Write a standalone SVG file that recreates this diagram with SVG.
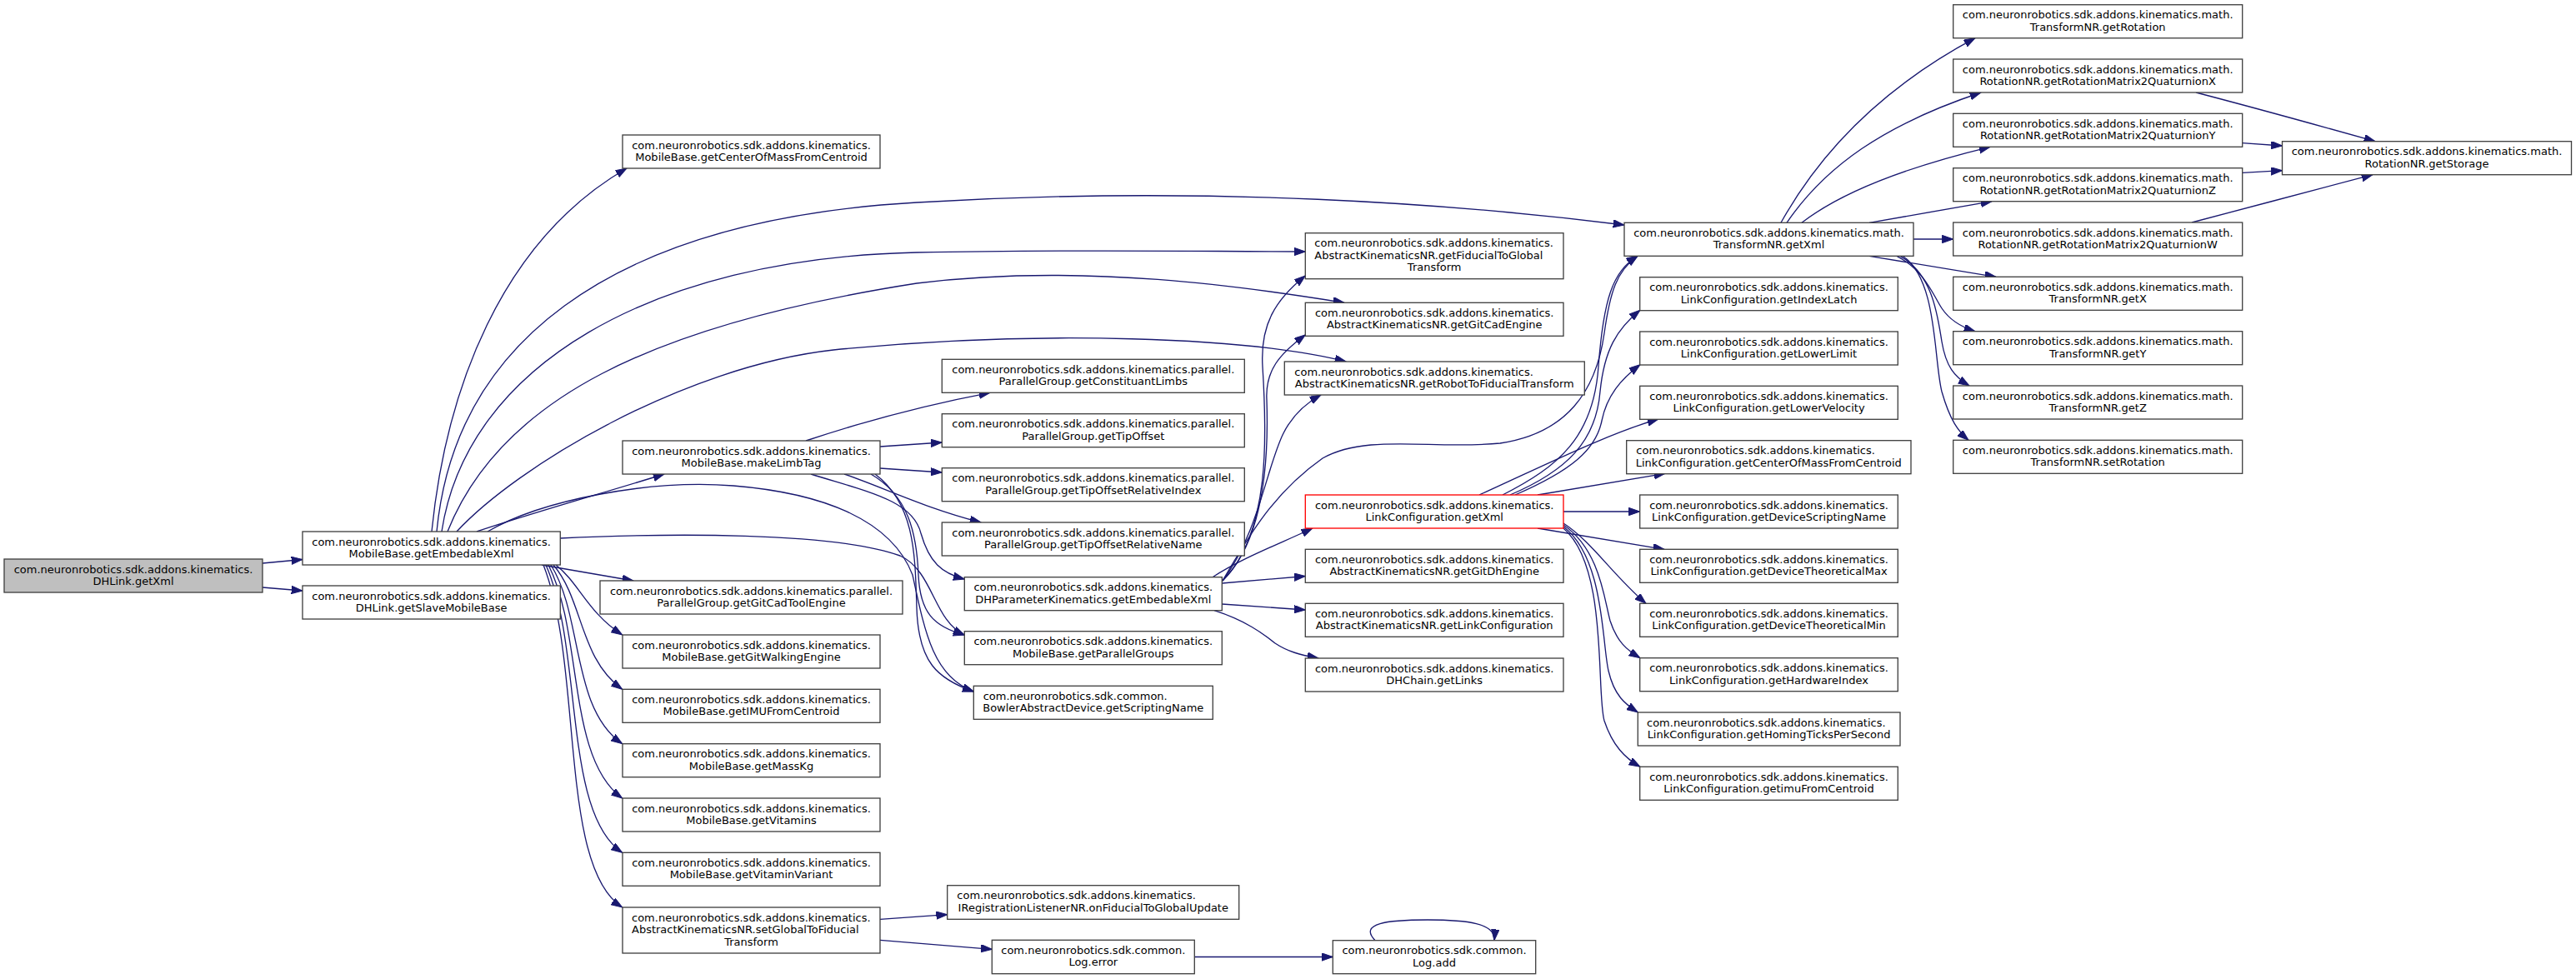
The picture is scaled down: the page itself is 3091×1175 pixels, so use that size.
<svg xmlns="http://www.w3.org/2000/svg" width="3091" height="1175" viewBox="0 0 3091 1175">
<defs>
<style>
.bg{fill:#fff}
.node rect{fill:#fff;stroke:#404040;stroke-width:1.33}
.node.root rect{fill:#bfbfbf}
.node.trunc rect{stroke:#ff0000}
text{font-family:"DejaVu Sans","Liberation Sans",sans-serif;font-size:13px;fill:#000}
.c{text-anchor:middle}
.l{text-anchor:start}
.edges path{fill:none;stroke:#191970;stroke-width:1.33;marker-end:url(#arr)}
</style>
<marker id="arr" markerUnits="userSpaceOnUse" markerWidth="14" markerHeight="10" refX="13.3" refY="4.65" orient="auto">
<path d="M0,0 L13.3,4.65 L0,9.3 z" fill="#191970" stroke="#191970" stroke-width="1"/>
</marker>
</defs>
<rect class="bg" x="0" y="0" width="3091" height="1175"/>
<g id="edges" class="edges">
<path d="M315,676 L363,671.5"/>
<path d="M315,705 L363,709"/>
<path d="M518,638 C535,470 600,290 752,202"/>
<path d="M524,638 C545,420 720,265 1100,243 C1450,222 1750,245 1949,270"/>
<path d="M530,638 C560,440 780,310 1100,303 C1300,299 1450,302 1566.3,302"/>
<path d="M537,638 C600,480 780,390 1100,340 C1300,315 1500,345 1613,363.3"/>
<path d="M548,638 C620,560 820,440 1000,420 C1250,395 1500,405 1615,434"/>
<path d="M572,638 C640,615 730,590 797,569"/>
<path d="M650,678 L760,697"/>
<path d="M667,678 C695,700 705,735 746.7,762"/>
<path d="M664,678 C700,720 695,790 746.7,827.3"/>
<path d="M661,678 C700,740 685,850 746.7,892.7"/>
<path d="M658,678 C700,760 680,910 746.7,958"/>
<path d="M655,678 C700,780 675,975 746.7,1023.3"/>
<path d="M652,678 C700,800 670,1040 746.7,1089"/>
<path d="M672,646 C800,640 1000,638 1080,667 C1120,685 1120,745 1157.3,762"/>
<path d="M585,638 C650,600 780,575 880,583 C990,592 1070,625 1095,690 C1110,760 1120,812 1168.3,830"/>
<path d="M967,529 C1030,508 1100,488 1188,471.3"/>
<path d="M1056,536 L1130.3,531"/>
<path d="M1056,562 L1130.3,567"/>
<path d="M1013,569 C1060,585 1110,610 1177,627"/>
<path d="M973,569 C1040,590 1095,600 1105,640 C1115,675 1130,688 1157.3,695"/>
<path d="M1045,569 C1090,595 1100,640 1102,690 C1104,735 1120,752 1157.3,762"/>
<path d="M1050,569 C1098,605 1098,665 1100,730 C1102,795 1125,815 1168.3,830"/>
<path d="M1467,697 C1525,640 1520,520 1515,440 C1512,390 1530,360 1566.3,331"/>
<path d="M1467,697 C1520,645 1522,540 1520,480 C1518,445 1535,425 1566.3,402"/>
<path d="M1467,697 C1510,640 1520,560 1540,520 C1550,500 1565,485 1585,474"/>
<path d="M1467,697 C1500,640 1530,590 1587,550 C1640,520 1720,540 1800,532 C1880,520 1915,470 1925,400 C1932,350 1940,325 1965,307.3"/>
<path d="M1455,692.7 C1490,670 1530,655 1575,634"/>
<path d="M1466.3,700 L1566.3,691.5"/>
<path d="M1466.3,725 L1566.3,732"/>
<path d="M1457,732.7 C1495,745 1515,760 1530,772 C1545,782 1560,786 1582,790"/>
<path d="M1803,594 C1870,560 1912,525 1918,440 C1924,360 1935,325 1965,307.3"/>
<path d="M1812,594 C1880,565 1915,530 1920,470 C1925,420 1940,395 1968,372.3"/>
<path d="M1818,594 C1885,565 1915,540 1922,505 C1928,475 1945,455 1968,437.7"/>
<path d="M1775,594 C1850,560 1930,520 1990,503"/>
<path d="M1845,594 L1998,568.3"/>
<path d="M1876,614 L1967.7,614"/>
<path d="M1845,634 L1997,659.3"/>
<path d="M1876,628 C1910,650 1935,690 1975,724.3"/>
<path d="M1876,630 C1920,660 1925,720 1932,745 C1940,770 1952,780 1968,789.7"/>
<path d="M1876,632 C1925,670 1922,770 1930,805 C1937,835 1950,845 1965.3,855"/>
<path d="M1876,634 C1930,680 1915,830 1925,865 C1935,895 1950,910 1968,920.3"/>
<path d="M2137,267.3 C2180,190 2250,110 2370,45.7"/>
<path d="M2144,267.3 C2190,200 2260,150 2377,111"/>
<path d="M2162,267.3 C2210,230 2290,200 2388,176.3"/>
<path d="M2243,267.3 L2390,241.7"/>
<path d="M2296,287 L2343.7,287"/>
<path d="M2243,307.3 L2395,332.3"/>
<path d="M2276,307.3 C2310,325 2320,355 2330,370 C2340,385 2355,393 2370,397.7"/>
<path d="M2280,307.3 C2320,330 2325,380 2330,410 C2335,440 2345,452 2363,463"/>
<path d="M2283,307.3 C2325,335 2320,430 2330,470 C2340,505 2350,518 2362,528.3"/>
<path d="M2635,111 C2700,128 2780,150 2850,169.7"/>
<path d="M2690.7,171.7 L2738.5,175"/>
<path d="M2690.7,207.3 L2738.5,204.7"/>
<path d="M2630,267 C2700,248 2780,228 2847,209.7"/>
<path d="M1056,1103.3 L1136.7,1097.7"/>
<path d="M1056,1128.3 L1190.3,1139.3"/>
<path d="M1433.3,1148.5 L1599.3,1148.5"/>
<path d="M1650,1128.7 C1630,1108 1665,1104 1713,1104 C1760,1104 1795,1108 1793,1128.7"/>
</g>

<g id="n1" class="node root"><rect x="5" y="671" width="310" height="40"/><text class="c" x="160" y="687.5">com.neuronrobotics.sdk.addons.kinematics.</text><text class="c" x="160" y="702">DHLink.getXml</text></g>
<g id="n2" class="node"><rect x="363" y="638" width="309.3" height="40"/><text class="c" x="517.6" y="654.5">com.neuronrobotics.sdk.addons.kinematics.</text><text class="c" x="517.6" y="669">MobileBase.getEmbedableXml</text></g>
<g id="n3" class="node"><rect x="363" y="703" width="309.3" height="40"/><text class="c" x="517.6" y="719.5">com.neuronrobotics.sdk.addons.kinematics.</text><text class="c" x="517.6" y="734">DHLink.getSlaveMobileBase</text></g>

<g id="n4" class="node"><rect x="747" y="162" width="309" height="40"/><text class="c" x="901.5" y="178.5">com.neuronrobotics.sdk.addons.kinematics.</text><text class="c" x="901.5" y="193">MobileBase.getCenterOfMassFromCentroid</text></g>
<g id="n5" class="node"><rect x="747" y="529" width="309" height="40"/><text class="c" x="901.5" y="545.5">com.neuronrobotics.sdk.addons.kinematics.</text><text class="c" x="901.5" y="560">MobileBase.makeLimbTag</text></g>
<g id="n6" class="node"><rect x="720" y="697" width="363" height="40"/><text class="c" x="901.5" y="713.5">com.neuronrobotics.sdk.addons.kinematics.parallel.</text><text class="c" x="901.5" y="728">ParallelGroup.getGitCadToolEngine</text></g>
<g id="n7" class="node"><rect x="747" y="762" width="309" height="40"/><text class="c" x="901.5" y="778.5">com.neuronrobotics.sdk.addons.kinematics.</text><text class="c" x="901.5" y="793">MobileBase.getGitWalkingEngine</text></g>
<g id="n8" class="node"><rect x="747" y="827.3" width="309" height="40"/><text class="c" x="901.5" y="843.8">com.neuronrobotics.sdk.addons.kinematics.</text><text class="c" x="901.5" y="858.3">MobileBase.getIMUFromCentroid</text></g>
<g id="n9" class="node"><rect x="747" y="892.7" width="309" height="40"/><text class="c" x="901.5" y="909.2">com.neuronrobotics.sdk.addons.kinematics.</text><text class="c" x="901.5" y="923.7">MobileBase.getMassKg</text></g>
<g id="n10" class="node"><rect x="747" y="958" width="309" height="40"/><text class="c" x="901.5" y="974.5">com.neuronrobotics.sdk.addons.kinematics.</text><text class="c" x="901.5" y="989">MobileBase.getVitamins</text></g>
<g id="n11" class="node"><rect x="747" y="1023.3" width="309" height="40"/><text class="c" x="901.5" y="1039.8">com.neuronrobotics.sdk.addons.kinematics.</text><text class="c" x="901.5" y="1054.3">MobileBase.getVitaminVariant</text></g>
<g id="n12" class="node"><rect x="747" y="1089" width="309" height="55"/><text class="l" x="758" y="1105.5">com.neuronrobotics.sdk.addons.kinematics.</text><text class="l" x="758" y="1120">AbstractKinematicsNR.setGlobalToFiducial</text><text class="c" x="901.5" y="1134.5">Transform</text></g>

<g id="n13" class="node"><rect x="1130.3" y="431.3" width="363" height="40"/><text class="c" x="1311.8" y="447.8">com.neuronrobotics.sdk.addons.kinematics.parallel.</text><text class="c" x="1311.8" y="462.3">ParallelGroup.getConstituantLimbs</text></g>
<g id="n14" class="node"><rect x="1130.3" y="496.7" width="363" height="40"/><text class="c" x="1311.8" y="513.2">com.neuronrobotics.sdk.addons.kinematics.parallel.</text><text class="c" x="1311.8" y="527.7">ParallelGroup.getTipOffset</text></g>
<g id="n15" class="node"><rect x="1130.3" y="561.7" width="363" height="40"/><text class="c" x="1311.8" y="578.2">com.neuronrobotics.sdk.addons.kinematics.parallel.</text><text class="c" x="1311.8" y="592.7">ParallelGroup.getTipOffsetRelativeIndex</text></g>
<g id="n16" class="node"><rect x="1130.3" y="627" width="363" height="40"/><text class="c" x="1311.8" y="643.5">com.neuronrobotics.sdk.addons.kinematics.parallel.</text><text class="c" x="1311.8" y="658">ParallelGroup.getTipOffsetRelativeName</text></g>
<g id="n17" class="node"><rect x="1157.3" y="692.7" width="309" height="40"/><text class="c" x="1311.8" y="709.2">com.neuronrobotics.sdk.addons.kinematics.</text><text class="c" x="1311.8" y="723.7">DHParameterKinematics.getEmbedableXml</text></g>
<g id="n18" class="node"><rect x="1157.3" y="757.7" width="309" height="40"/><text class="c" x="1311.8" y="774.2">com.neuronrobotics.sdk.addons.kinematics.</text><text class="c" x="1311.8" y="788.7">MobileBase.getParallelGroups</text></g>
<g id="n19" class="node"><rect x="1168.3" y="823.3" width="287" height="40"/><text class="l" x="1179.7" y="839.8">com.neuronrobotics.sdk.common.</text><text class="c" x="1311.8" y="854.3">BowlerAbstractDevice.getScriptingName</text></g>
<g id="n20" class="node"><rect x="1136.7" y="1062.7" width="350" height="40.6"/><text class="l" x="1148.3" y="1079.2">com.neuronrobotics.sdk.addons.kinematics.</text><text class="c" x="1311.8" y="1093.7">IRegistrationListenerNR.onFiducialToGlobalUpdate</text></g>
<g id="n21" class="node"><rect x="1190.3" y="1128.3" width="243" height="40.4"/><text class="c" x="1311.8" y="1144.8">com.neuronrobotics.sdk.common.</text><text class="c" x="1311.8" y="1159.3">Log.error</text></g>

<g id="n22" class="node"><rect x="1566.3" y="279.7" width="309.7" height="55"/><text class="l" x="1577.3" y="296.2">com.neuronrobotics.sdk.addons.kinematics.</text><text class="l" x="1577.3" y="310.7">AbstractKinematicsNR.getFiducialToGlobal</text><text class="c" x="1721.2" y="325.2">Transform</text></g>
<g id="n23" class="node"><rect x="1566.3" y="363.3" width="309.7" height="40"/><text class="c" x="1721.2" y="379.8">com.neuronrobotics.sdk.addons.kinematics.</text><text class="c" x="1721.2" y="394.3">AbstractKinematicsNR.getGitCadEngine</text></g>
<g id="n24" class="node"><rect x="1541.3" y="434" width="360" height="40"/><text class="l" x="1553.3" y="450.5">com.neuronrobotics.sdk.addons.kinematics.</text><text class="c" x="1721.3" y="465">AbstractKinematicsNR.getRobotToFiducialTransform</text></g>
<g id="n25" class="node trunc"><rect x="1566.3" y="594" width="309.7" height="40"/><text class="c" x="1721.2" y="610.5">com.neuronrobotics.sdk.addons.kinematics.</text><text class="c" x="1721.2" y="625">LinkConfiguration.getXml</text></g>
<g id="n26" class="node"><rect x="1566.3" y="659.3" width="309.7" height="40"/><text class="c" x="1721.2" y="675.8">com.neuronrobotics.sdk.addons.kinematics.</text><text class="c" x="1721.2" y="690.3">AbstractKinematicsNR.getGitDhEngine</text></g>
<g id="n27" class="node"><rect x="1566.3" y="724.3" width="309.7" height="40"/><text class="c" x="1721.2" y="740.8">com.neuronrobotics.sdk.addons.kinematics.</text><text class="c" x="1721.2" y="755.3">AbstractKinematicsNR.getLinkConfiguration</text></g>
<g id="n28" class="node"><rect x="1566.3" y="790" width="309.7" height="40"/><text class="c" x="1721.2" y="806.5">com.neuronrobotics.sdk.addons.kinematics.</text><text class="c" x="1721.2" y="821">DHChain.getLinks</text></g>
<g id="n29" class="node"><rect x="1599.3" y="1128.7" width="243.4" height="40"/><text class="c" x="1721" y="1145.2">com.neuronrobotics.sdk.common.</text><text class="c" x="1721" y="1159.7">Log.add</text></g>

<g id="n30" class="node"><rect x="1949" y="267.3" width="347" height="40"/><text class="c" x="2122.5" y="283.8">com.neuronrobotics.sdk.addons.kinematics.math.</text><text class="c" x="2122.5" y="298.3">TransformNR.getXml</text></g>
<g id="n31" class="node"><rect x="1967.7" y="332.7" width="309.6" height="40"/><text class="c" x="2122.5" y="349.2">com.neuronrobotics.sdk.addons.kinematics.</text><text class="c" x="2122.5" y="363.7">LinkConfiguration.getIndexLatch</text></g>
<g id="n32" class="node"><rect x="1967.7" y="398" width="309.6" height="40"/><text class="c" x="2122.5" y="414.5">com.neuronrobotics.sdk.addons.kinematics.</text><text class="c" x="2122.5" y="429">LinkConfiguration.getLowerLimit</text></g>
<g id="n33" class="node"><rect x="1967.7" y="463.3" width="309.6" height="40"/><text class="c" x="2122.5" y="479.8">com.neuronrobotics.sdk.addons.kinematics.</text><text class="c" x="2122.5" y="494.3">LinkConfiguration.getLowerVelocity</text></g>
<g id="n34" class="node"><rect x="1951.7" y="528.7" width="341.3" height="40"/><text class="l" x="1963.3" y="545.2">com.neuronrobotics.sdk.addons.kinematics.</text><text class="c" x="2122.3" y="559.7">LinkConfiguration.getCenterOfMassFromCentroid</text></g>
<g id="n35" class="node"><rect x="1967.7" y="594" width="309.6" height="40"/><text class="c" x="2122.5" y="610.5">com.neuronrobotics.sdk.addons.kinematics.</text><text class="c" x="2122.5" y="625">LinkConfiguration.getDeviceScriptingName</text></g>
<g id="n36" class="node"><rect x="1967.7" y="659.3" width="309.6" height="40"/><text class="c" x="2122.5" y="675.8">com.neuronrobotics.sdk.addons.kinematics.</text><text class="c" x="2122.5" y="690.3">LinkConfiguration.getDeviceTheoreticalMax</text></g>
<g id="n37" class="node"><rect x="1967.7" y="724.3" width="309.6" height="40"/><text class="c" x="2122.5" y="740.8">com.neuronrobotics.sdk.addons.kinematics.</text><text class="c" x="2122.5" y="755.3">LinkConfiguration.getDeviceTheoreticalMin</text></g>
<g id="n38" class="node"><rect x="1967.7" y="789.7" width="309.6" height="40"/><text class="c" x="2122.5" y="806.2">com.neuronrobotics.sdk.addons.kinematics.</text><text class="c" x="2122.5" y="820.7">LinkConfiguration.getHardwareIndex</text></g>
<g id="n39" class="node"><rect x="1965.3" y="855" width="314.7" height="40"/><text class="l" x="1976" y="871.5">com.neuronrobotics.sdk.addons.kinematics.</text><text class="c" x="2122.6" y="886">LinkConfiguration.getHomingTicksPerSecond</text></g>
<g id="n40" class="node"><rect x="1967.7" y="920.3" width="309.6" height="40"/><text class="c" x="2122.5" y="936.8">com.neuronrobotics.sdk.addons.kinematics.</text><text class="c" x="2122.5" y="951.3">LinkConfiguration.getimuFromCentroid</text></g>

<g id="n41" class="node"><rect x="2343.7" y="5.7" width="347" height="40"/><text class="c" x="2517.2" y="22.2">com.neuronrobotics.sdk.addons.kinematics.math.</text><text class="c" x="2517.2" y="36.7">TransformNR.getRotation</text></g>
<g id="n42" class="node"><rect x="2343.7" y="71" width="347" height="40"/><text class="c" x="2517.2" y="87.5">com.neuronrobotics.sdk.addons.kinematics.math.</text><text class="c" x="2517.2" y="102">RotationNR.getRotationMatrix2QuaturnionX</text></g>
<g id="n43" class="node"><rect x="2343.7" y="136.3" width="347" height="40"/><text class="c" x="2517.2" y="152.8">com.neuronrobotics.sdk.addons.kinematics.math.</text><text class="c" x="2517.2" y="167.3">RotationNR.getRotationMatrix2QuaturnionY</text></g>
<g id="n44" class="node"><rect x="2343.7" y="201.7" width="347" height="40"/><text class="c" x="2517.2" y="218.2">com.neuronrobotics.sdk.addons.kinematics.math.</text><text class="c" x="2517.2" y="232.7">RotationNR.getRotationMatrix2QuaturnionZ</text></g>
<g id="n45" class="node"><rect x="2343.7" y="267" width="347" height="40"/><text class="c" x="2517.2" y="283.5">com.neuronrobotics.sdk.addons.kinematics.math.</text><text class="c" x="2517.2" y="298">RotationNR.getRotationMatrix2QuaturnionW</text></g>
<g id="n46" class="node"><rect x="2343.7" y="332.3" width="347" height="40"/><text class="c" x="2517.2" y="348.8">com.neuronrobotics.sdk.addons.kinematics.math.</text><text class="c" x="2517.2" y="363.3">TransformNR.getX</text></g>
<g id="n47" class="node"><rect x="2343.7" y="397.7" width="347" height="40"/><text class="c" x="2517.2" y="414.2">com.neuronrobotics.sdk.addons.kinematics.math.</text><text class="c" x="2517.2" y="428.7">TransformNR.getY</text></g>
<g id="n48" class="node"><rect x="2343.7" y="463" width="347" height="40"/><text class="c" x="2517.2" y="479.5">com.neuronrobotics.sdk.addons.kinematics.math.</text><text class="c" x="2517.2" y="494">TransformNR.getZ</text></g>
<g id="n49" class="node"><rect x="2343.7" y="528.3" width="347" height="40"/><text class="c" x="2517.2" y="544.8">com.neuronrobotics.sdk.addons.kinematics.math.</text><text class="c" x="2517.2" y="559.3">TransformNR.setRotation</text></g>
<g id="n50" class="node"><rect x="2738.5" y="169.7" width="347" height="40"/><text class="c" x="2912" y="186.2">com.neuronrobotics.sdk.addons.kinematics.math.</text><text class="c" x="2912" y="200.7">RotationNR.getStorage</text></g>
</svg>
